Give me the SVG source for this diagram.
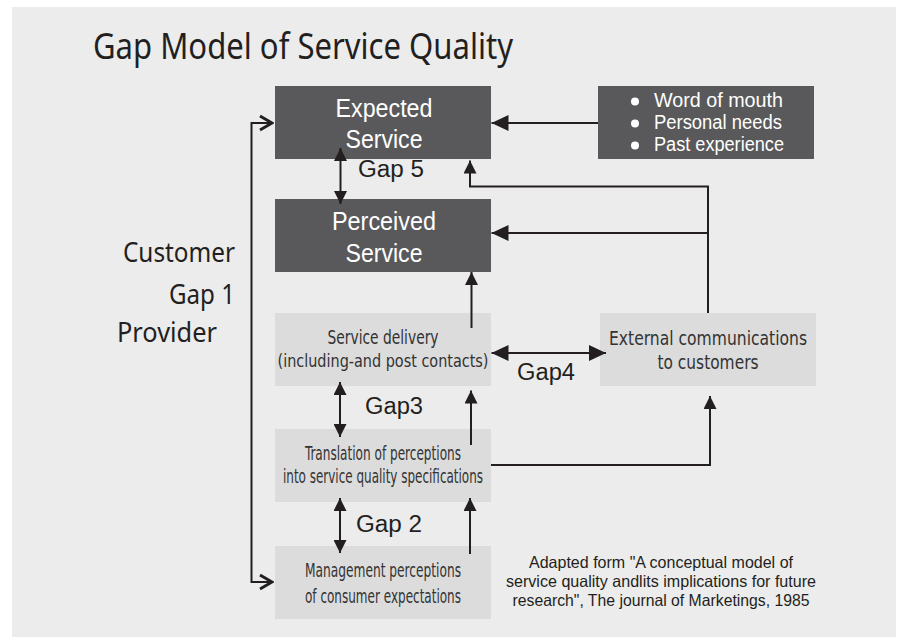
<svg xmlns="http://www.w3.org/2000/svg" width="901" height="637" viewBox="0 0 901 637">
  <defs>
    <style>
      .dark { fill: #59595b; }
      .light { fill: #dcdcdc; }
      .wt { font-family: "Liberation Sans", "Noto Sans", sans-serif; fill: #ffffff; text-anchor: middle; }
      .lt { font-family: "Liberation Sans Narrow", "DejaVu Sans Condensed", "Liberation Sans", sans-serif; fill: #333333; text-anchor: middle; }
      .lbl { font-family: "Liberation Sans", "Noto Sans", sans-serif; fill: #231f20; }
      .ttl { font-family: "Noto Sans", "Open Sans", "Liberation Sans", sans-serif; fill: #231f20; }
      .ln { fill: none; stroke: #231f20; stroke-width: 2; }
    </style>
    <!-- filled heads: a wider one for horizontal runs, a smaller one for vertical runs -->
    <marker id="ah" viewBox="0 0 17 16" refX="17" refY="8" markerWidth="17" markerHeight="16" markerUnits="userSpaceOnUse" orient="auto-start-reverse">
      <path d="M0,0 L17,8 L0,16 Z" fill="#231f20"/>
    </marker>
    <marker id="av" viewBox="0 0 13 13" refX="13" refY="6.5" markerWidth="13" markerHeight="13" markerUnits="userSpaceOnUse" orient="auto-start-reverse">
      <path d="M0,0 L13,6.5 L0,13 Z" fill="#231f20"/>
    </marker>
    <!-- open chevron used by the customer/provider feedback line -->
    <marker id="chev" viewBox="-14 -9 16 18" refX="0" refY="0" markerWidth="16" markerHeight="18" markerUnits="userSpaceOnUse" orient="auto-start-reverse">
      <path d="M-12,-7 L0,0 L-12,7" fill="none" stroke="#231f20" stroke-width="3"/>
    </marker>
  </defs>

  <!-- panel -->
  <rect x="0" y="0" width="901" height="637" fill="#ffffff"/>
  <rect x="12" y="7" width="884" height="630" fill="#ececec"/>

  <text class="ttl" x="93" y="59" font-size="36" textLength="420" lengthAdjust="spacingAndGlyphs">Gap Model of Service Quality</text>

  <g id="side-labels" class="ttl" font-size="27">
    <text x="123" y="262" textLength="112" lengthAdjust="spacingAndGlyphs">Customer</text>
    <text x="169" y="304" textLength="66" lengthAdjust="spacingAndGlyphs">Gap 1</text>
    <text x="117" y="342" textLength="100" lengthAdjust="spacingAndGlyphs">Provider</text>
  </g>

  <g id="expected-service">
    <rect class="dark" x="275" y="86" width="216" height="73"/>
    <text class="wt" x="384" y="117" font-size="26" textLength="97" lengthAdjust="spacingAndGlyphs">Expected</text>
    <text class="wt" x="384" y="148" font-size="26" textLength="77" lengthAdjust="spacingAndGlyphs">Service</text>
  </g>

  <g id="influences">
    <rect class="dark" x="598" y="86" width="216" height="73"/>
    <circle cx="635" cy="101.5" r="4" fill="#ffffff"/>
    <circle cx="635" cy="123.5" r="4" fill="#ffffff"/>
    <circle cx="635" cy="145.5" r="4" fill="#ffffff"/>
    <g class="wt" font-size="19.5" style="text-anchor:start">
      <text x="654" y="107" textLength="129" lengthAdjust="spacingAndGlyphs">Word of mouth</text>
      <text x="654" y="129" textLength="128" lengthAdjust="spacingAndGlyphs">Personal needs</text>
      <text x="654" y="151" textLength="130" lengthAdjust="spacingAndGlyphs">Past experience</text>
    </g>
  </g>

  <g id="perceived-service">
    <rect class="dark" x="275" y="199" width="216" height="73"/>
    <text class="wt" x="384" y="230" font-size="26" textLength="104" lengthAdjust="spacingAndGlyphs">Perceived</text>
    <text class="wt" x="384" y="262" font-size="26" textLength="77" lengthAdjust="spacingAndGlyphs">Service</text>
  </g>

  <g id="service-delivery" class="lt" font-size="20">
    <rect class="light" x="275" y="313" width="216" height="73"/>
    <text x="383" y="344" textLength="111" lengthAdjust="spacingAndGlyphs">Service delivery</text>
    <text x="383" y="367" font-size="17.5" textLength="211" lengthAdjust="spacingAndGlyphs">(including-and post contacts)</text>
  </g>

  <g id="external-communications" class="lt" font-size="20">
    <rect class="light" x="600" y="313" width="216" height="73"/>
    <text x="708" y="345" textLength="198" lengthAdjust="spacingAndGlyphs">External communications</text>
    <text x="708" y="369" textLength="101" lengthAdjust="spacingAndGlyphs">to customers</text>
  </g>

  <g id="translation" class="lt" font-size="20">
    <rect class="light" x="275" y="429" width="216" height="73"/>
    <text x="383" y="460" textLength="156" lengthAdjust="spacingAndGlyphs">Translation of perceptions</text>
    <text x="383" y="483" textLength="200" lengthAdjust="spacingAndGlyphs">into service quality specifications</text>
  </g>

  <g id="management-perceptions" class="lt" font-size="20">
    <rect class="light" x="275" y="546" width="216" height="73"/>
    <text x="383" y="577" textLength="156" lengthAdjust="spacingAndGlyphs">Management perceptions</text>
    <text x="383" y="603" textLength="156" lengthAdjust="spacingAndGlyphs">of consumer expectations</text>
  </g>

  <g id="connectors">
    <path class="ln" d="M272,123 H251.5 V582 H272" stroke-width="3" marker-start="url(#chev)" marker-end="url(#chev)"/>
    <path class="ln" d="M598,123 H491.5" marker-end="url(#ah)"/>
    <path class="ln" d="M708,313 V186.5 H470 V160.5" marker-end="url(#av)"/>
    <path class="ln" d="M708,233 H491.5" marker-end="url(#ah)"/>
    <path class="ln" d="M340.5,148 V204" marker-start="url(#av)" marker-end="url(#av)"/>
    <path class="ln" d="M471.5,328 V272" marker-end="url(#av)"/>
    <path class="ln" d="M491.5,353 H606" marker-start="url(#ah)" marker-end="url(#ah)"/>
    <path class="ln" d="M340,382 V437" marker-start="url(#av)" marker-end="url(#av)"/>
    <path class="ln" d="M471,445 V390.5" marker-end="url(#av)"/>
    <path class="ln" d="M491,465 H710 V396" marker-end="url(#av)"/>
    <path class="ln" d="M340,498 V553" marker-start="url(#av)" marker-end="url(#av)"/>
    <path class="ln" d="M470,554 V498" marker-end="url(#av)"/>
  </g>

  <g id="gap-labels" class="lbl" font-size="23">
    <text x="358" y="177" textLength="66" lengthAdjust="spacingAndGlyphs">Gap 5</text>
    <text x="517" y="380" textLength="58" lengthAdjust="spacingAndGlyphs">Gap4</text>
    <text x="365" y="414" textLength="58" lengthAdjust="spacingAndGlyphs">Gap3</text>
    <text x="356" y="532" textLength="66" lengthAdjust="spacingAndGlyphs">Gap 2</text>
  </g>

  <g id="source-note" class="lbl" font-size="16.5" text-anchor="middle">
    <text x="661" y="568" textLength="264" lengthAdjust="spacingAndGlyphs">Adapted form "A conceptual model of</text>
    <text x="661" y="587" textLength="310" lengthAdjust="spacingAndGlyphs">service quality andlits implications for future</text>
    <text x="661" y="606" textLength="297" lengthAdjust="spacingAndGlyphs">research", The journal of Marketings,  1985</text>
  </g>
</svg>
